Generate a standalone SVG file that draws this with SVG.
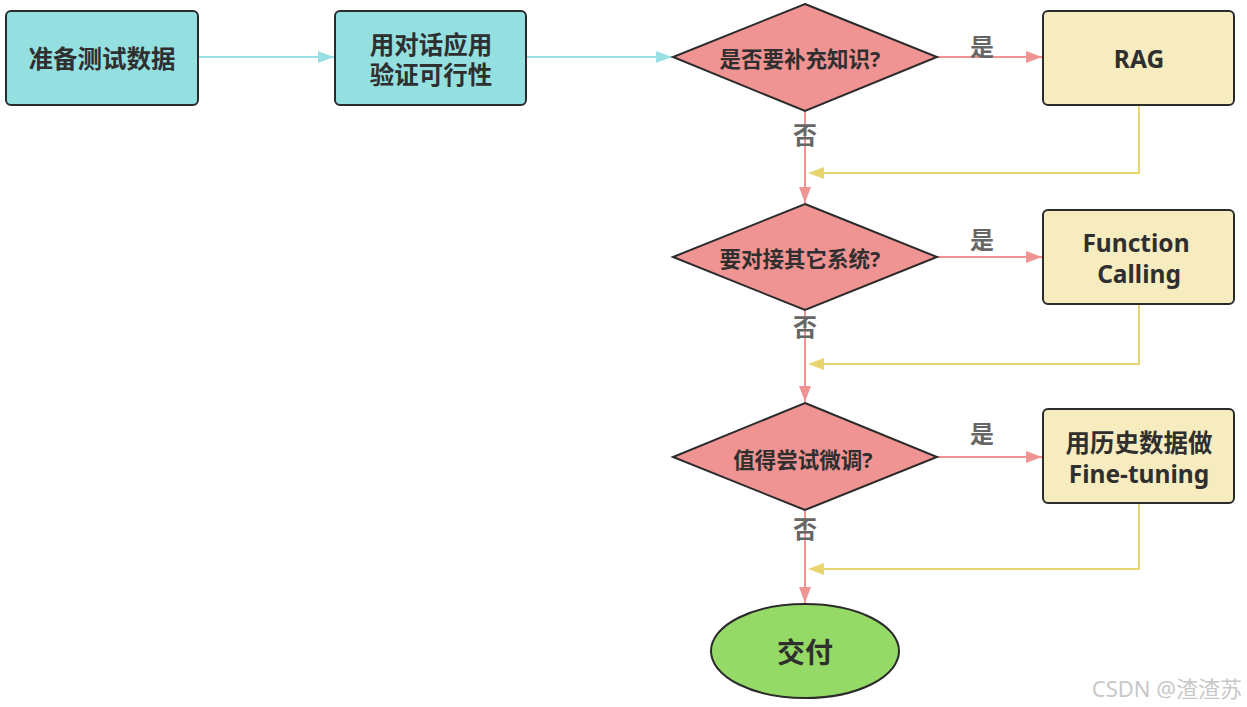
<svg xmlns="http://www.w3.org/2000/svg" width="1247" height="707" viewBox="0 0 1247 707">
<defs>
<style>
.t{font-family:"Noto Sans","Noto Sans CJK SC",sans-serif;font-weight:bold;fill:#2f2f2f;text-anchor:middle;dominant-baseline:central}
.b{font-size:24.5px}
.d{font-size:21.5px}
.lbl{font-family:"Noto Sans CJK SC",sans-serif;font-weight:bold;font-size:24px;fill:#666;text-anchor:middle;dominant-baseline:central}
.cy{fill:#94e0e1;stroke:#2b2b2b;stroke-width:2}
.ye{fill:#f6ecc0;stroke:#2b2b2b;stroke-width:2}
.dm{fill:#f09393;stroke:#2b2b2b;stroke-width:2}
.c1{stroke:#99e0e4;stroke-width:2;fill:none}
.c2{stroke:#f09393;stroke-width:2;fill:none}
.c3{stroke:#e9d56f;stroke-width:2;fill:none}
</style>
<marker id="ac" markerWidth="16" markerHeight="12" refX="16" refY="6" orient="auto" markerUnits="userSpaceOnUse"><path d="M0,0 L16,6 L0,12 Z" fill="#99e0e4"/></marker>
<marker id="ar" markerWidth="16" markerHeight="12" refX="16" refY="6" orient="auto" markerUnits="userSpaceOnUse"><path d="M0,0 L16,6 L0,12 Z" fill="#f09393"/></marker>
</defs>
<g id="connectors">
<line class="c1" x1="198" y1="57" x2="334" y2="57" marker-end="url(#ac)"/>
<line class="c1" x1="526" y1="57" x2="672" y2="57" marker-end="url(#ac)"/>
<line class="c2" x1="937" y1="57" x2="1042" y2="57" marker-end="url(#ar)"/>
<line class="c2" x1="937" y1="257" x2="1042" y2="257" marker-end="url(#ar)"/>
<line class="c2" x1="937" y1="457" x2="1042" y2="457" marker-end="url(#ar)"/>
<line class="c2" x1="805" y1="111" x2="805" y2="203" marker-end="url(#ar)"/>
<line class="c2" x1="805" y1="310" x2="805" y2="402" marker-end="url(#ar)"/>
<line class="c2" x1="805" y1="510" x2="805" y2="603" marker-end="url(#ar)"/>
<polyline class="c3" points="1139,105 1139,173 822,173"/>
<path d="M824,167 L808,173 L824,179 Z" fill="#e9d56f"/>
<polyline class="c3" points="1139,304 1139,364 822,364"/>
<path d="M824,358 L808,364 L824,370 Z" fill="#e9d56f"/>
<polyline class="c3" points="1139,503 1139,569 822,569"/>
<path d="M824,563 L808,569 L824,575 Z" fill="#e9d56f"/>
<text class="lbl" x="982" y="45">是</text>
<text class="lbl" x="982" y="238">是</text>
<text class="lbl" x="982" y="432">是</text>
<text class="lbl" x="805" y="133">否</text>
<text class="lbl" x="805" y="325">否</text>
<text class="lbl" x="805" y="527">否</text>
</g>
<g id="n1"><rect class="cy" x="6" y="11" width="192" height="94" rx="5"/><text class="t b" x="102" y="58">准备测试数据</text></g>
<g id="n2"><rect class="cy" x="335" y="11" width="191" height="94" rx="5"/><text class="t b" x="431" y="44">用对话应用</text><text class="t b" x="431" y="74">验证可行性</text></g>
<g id="d1"><polygon class="dm" points="805,4 937,57 805,111 673,57"/><text class="t d" x="800" y="58">是否要补充知识?</text></g>
<g id="r1"><rect class="ye" x="1043" y="11" width="191" height="94" rx="5"/><text class="t b" x="1139" y="58">RAG</text></g>
<g id="d2"><polygon class="dm" points="805,204 937,257 805,310 673,257"/><text class="t d" x="800" y="258">要对接其它系统?</text></g>
<g id="r2"><rect class="ye" x="1043" y="210" width="191" height="94" rx="5"/><text class="t b" x="1136" y="242">Function</text><text class="t b" x="1139" y="273">Calling</text></g>
<g id="d3"><polygon class="dm" points="805,403 937,457 805,510 673,457"/><text class="t d" x="803" y="459">值得尝试微调?</text></g>
<g id="r3"><rect class="ye" x="1043" y="409" width="191" height="94" rx="5"/><text class="t b" x="1139" y="442">用历史数据做</text><text class="t b" x="1139" y="473">Fine-tuning</text></g>
<g id="end"><ellipse cx="805" cy="651" rx="94" ry="47" fill="#95d967" stroke="#2b2b2b" stroke-width="2"/><text class="t" style="font-size:28px" x="805" y="652">交付</text></g>
<text x="1242" y="688" font-family="Noto Sans, Noto Sans CJK SC, sans-serif" font-size="22" fill="#c8c8c8" text-anchor="end" dominant-baseline="central">CSDN @渣渣苏</text>
</svg>
